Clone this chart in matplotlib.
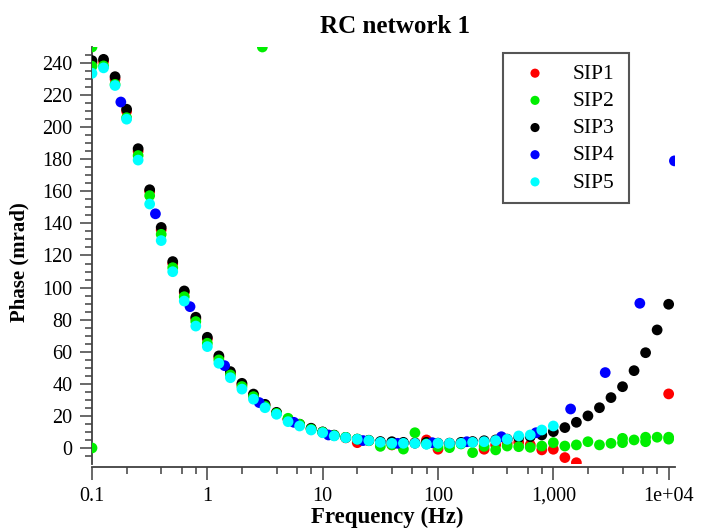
import numpy as np
import matplotlib
matplotlib.use("Agg")
import matplotlib.pyplot as plt
from matplotlib.ticker import FixedLocator, FixedFormatter

# ---------------- data ----------------
# common frequency grid (10 points per decade, 0.1 Hz .. 10 kHz)
freq_exp = [-1.0, -0.9, -0.8, -0.7, -0.6, -0.5, -0.4, -0.3, -0.2, -0.1,
            0.0, 0.1, 0.2, 0.3, 0.4, 0.5, 0.6, 0.7, 0.8, 0.9,
            1.0, 1.1, 1.2, 1.3, 1.4, 1.5, 1.6, 1.7, 1.8, 1.9,
            2.0, 2.1, 2.2, 2.3, 2.4, 2.5, 2.6, 2.7, 2.8, 2.9,
            3.0, 3.1, 3.2, 3.3, 3.4, 3.5, 3.6, 3.7, 3.8, 3.9, 4.0]
freq = [10 ** e for e in freq_exp]

sip1 = [240, 241, 230, 210, 185, 160, 136, 115, 97, 80.5,
        68, 56.5, 46.8, 39.5, 33, 26.8, 21.8, 17.8, 14.5, 12,
        9.8, 7.8, 6.3, 3.3, 4.5, 3.5, 1.9, 3.0, 3.3, 5.0,
        -0.8, 2.5, 3.0, 3.5, -0.8, 1.9, 3.0, 3.5, 2.0, -1.2,
        -0.8, -6.0, -9.2, np.nan, np.nan, np.nan, np.nan, np.nan, np.nan, np.nan, 33.7]

sip2 = [238, 238.2, 226.7, 205.9, 182.3, 157.3, 133.2, 112.4, 94.3, 78.8,
        65.3, 54.9, 45.5, 38.3, 32, 26, 21.6, 18.5, 14.8, 11.7,
        9.8, 7.8, 6.6, 5.5, 4.6, 1.0, 2.0, -0.7, 9.5, 2.5,
        0.8, 0.2, 2.5, -2.9, 1.0, -1.2, 1.2, 0.8, 0.4, 1.2,
        3.3, 1.2, 1.9, 3.9, 1.9, 2.9, 6.0, 5.0, 6.7, 6.7, 6.7]
# additional SIP2 readings (repeats / outliers)
sip2_extra_freq = [0.1, 0.1, 3.0, 10 ** 3.6, 10 ** 3.8, 10 ** 4.0]
sip2_extra_val = [250, 0, 250, 3.3, 3.9, 5.5]

sip3 = [241.5, 242.3, 231.5, 211.2, 186.6, 161, 137.5, 116.2, 97.9, 81.5,
        69, 57.4, 47.6, 40.3, 33.6, 27.2, 22.2, 18, 14.8, 12.3,
        10, 8, 6.6, 5.5, 4.8, 4, 3.9, 3.5, 3, 3.5,
        3, 3, 3.5, 4, 4.5, 5, 5.5, 6.5, 7, 8.1,
        10.2, 12.7, 16, 20, 25.1, 31.4, 38.2, 48.2, 59.4, 73.6, 89.6]

sip4_exp = [-0.75, -0.45, -0.15, 0.15, 0.45, 0.75, 1.05, 1.35, 1.65,
            1.95, 2.25, 2.55, 2.85, 3.15, 3.45, 3.75, 4.05]
sip4_freq = [10 ** e for e in sip4_exp]
sip4 = [215.7, 146, 88.1, 51.3, 28.3, 16, 8.1, 4.6, 2.9,
        3.3, 3.9, 7.0, 9.5, 24.3, 47, 90.2, 179]

sip5 = [233.6, 237, 226, 205, 179.5, 152.1, 129.3, 109.9, 91.6, 76,
        63.2, 52.8, 43.8, 36.7, 30.4, 25.1, 21, 16.4, 13.7, 11.2,
        9.5, 7.5, 6.4, 5.4, 4.6, 3.5, 2.9, 2.9, 2.9, 2.3,
        2.9, 2.9, 2.9, 3.5, 3.9, 4.6, 5.4, 7.5, 8.1, 11.2, 13.7]
sip5_freq = freq[:len(sip5)]

x_major = [0.1, 1, 10, 100, 1000, 10000]
x_major_labels = ["0.1", "1", "10", "100", "1,000", "1e+04"]
y_major = [0, 20, 40, 60, 80, 100, 120, 140, 160, 180, 200, 220, 240]

title = "RC network 1"
xlabel = "Frequency (Hz)"
ylabel = "Phase (mrad)"

# ---------------- plot ----------------
plt.rcParams['font.family'] = ['Liberation Serif', 'DejaVu Serif']

W, H = 707, 529
fig = plt.figure(figsize=(W / 100, H / 100), dpi=100)
L, R, T, B = 92, 675, 47, 464
ax = fig.add_axes([L / W, 1 - B / H, (R - L) / W, (B - T) / H])

ms = 60
ax.scatter(freq, sip1, s=ms, color='#ff0000', edgecolors='none', label='SIP1', zorder=2)
ax.scatter(freq, sip3, s=ms, color='#000000', edgecolors='none', label='SIP3', zorder=3)
ax.scatter(freq, sip2, s=ms, color='#00ee00', edgecolors='none', label='SIP2', zorder=4)
ax.scatter(sip2_extra_freq, sip2_extra_val, s=ms, color='#00ee00', edgecolors='none', zorder=4)
ax.scatter(sip4_freq, sip4, s=ms, color='#0000ff', edgecolors='none', label='SIP4', zorder=5)
ax.scatter(sip5_freq, sip5, s=ms, color='#00ffff', edgecolors='none', label='SIP5', zorder=6)

ax.set_xscale('log')
ax.set_xlim(0.1, 10 ** 4.055)
ax.set_ylim(-10, 250)

ax.xaxis.set_major_locator(FixedLocator(x_major))
ax.xaxis.set_major_formatter(FixedFormatter(x_major_labels))
minors = [m * 10.0 ** d for d in range(-1, 4) for m in (2, 4, 6, 8)]
ax.xaxis.set_minor_locator(FixedLocator(minors))
ax.xaxis.set_minor_formatter(FixedFormatter([""] * len(minors)))

ax.yaxis.set_major_locator(FixedLocator(y_major))
ax.yaxis.set_minor_locator(FixedLocator(list(range(-5, 250, 5))))

axis_col = '#404040'
for s in ['top', 'right']:
    ax.spines[s].set_visible(False)
for s in ['left', 'bottom']:
    ax.spines[s].set_color(axis_col)
    ax.spines[s].set_linewidth(1.3)
ax.spines['bottom'].set_position(('outward', 2.5))

ax.tick_params(which='major', length=9, width=1.1, color=axis_col, labelsize=14.5,
               labelcolor='black', pad=5)
ax.tick_params(which='minor', length=5, width=1.1, color=axis_col)
ax.tick_params(axis='x', which='major', pad=5)

ax.set_title(title, fontsize=18, fontweight='bold', x=0.52, pad=10)
ax.set_xlabel(xlabel, fontsize=16.5, fontweight='bold')
ax.set_ylabel(ylabel, fontsize=15, fontweight='bold')
ax.xaxis.set_label_coords(0.506, -0.103)
ax.yaxis.set_label_coords(-0.108, 0.484)

handles, labels = ax.get_legend_handles_labels()
order = [labels.index(n) for n in ['SIP1', 'SIP2', 'SIP3', 'SIP4', 'SIP5']]
leg = ax.legend([handles[i] for i in order], [labels[i] for i in order],
                loc='upper left', bbox_to_anchor=(0.7045, 0.5, 0.217, 0.4856),
                mode='expand', borderaxespad=0,
                fancybox=False, fontsize=15.5, markerscale=0.85,
                labelspacing=0.33, borderpad=0.5, handlelength=2.0,
                handletextpad=0.74, framealpha=1)
leg.get_frame().set_edgecolor('#555555')
leg.get_frame().set_linewidth(1.5)

fig.savefig('out.png', dpi=100)
